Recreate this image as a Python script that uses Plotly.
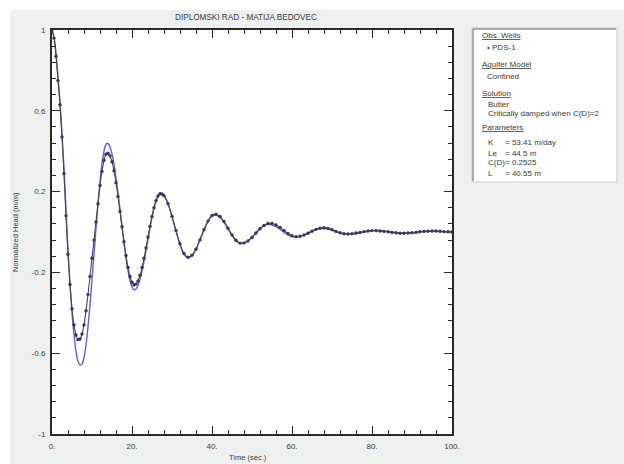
import plotly.graph_objects as go

# ---------------- data ----------------
time_s = [0, 0.5, 1, 1.5, 2, 2.5, 3, 3.5, 4, 4.5, 5, 5.5, 6, 6.5, 7, 7.5, 8, 8.5, 9, 9.5,
          10, 10.5, 11, 11.5, 12, 12.5, 13, 13.5, 14, 14.5, 15, 15.5, 16, 16.5, 17, 17.5,
          18, 18.5, 19, 19.5, 20, 20.5, 21, 21.5, 22, 22.5, 23, 23.5, 24, 24.5, 25, 25.5,
          26, 26.5, 27, 27.5, 28,
          29, 30, 31, 32, 33, 34, 35, 36, 37, 38, 39, 40, 41, 42, 43, 44, 45, 46, 47, 48,
          49, 50, 51, 52, 53, 54, 55, 56, 57, 58, 59, 60, 61, 62, 63, 64, 65, 66, 67, 68,
          69, 70, 71, 72, 73, 74, 75, 76, 77, 78, 79, 80, 81, 82, 83, 84, 85, 86, 87, 88,
          89, 90, 91, 92, 93, 94, 95, 96, 97, 98, 99, 100]

observed_head = [1.0, 0.96, 0.87, 0.75, 0.63, 0.47, 0.29, 0.08, -0.11, -0.26,
                 -0.38, -0.46, -0.51, -0.533, -0.530, -0.505, -0.46, -0.39, -0.31, -0.22,
                 -0.13, -0.04, 0.05, 0.14, 0.23, 0.30, 0.355, 0.385, 0.39, 0.377,
                 0.348, 0.303, 0.244, 0.176, 0.102, 0.026, -0.048, -0.116, -0.175, -0.220,
                 -0.249, -0.262, -0.258, -0.242, -0.214, -0.176, -0.130, -0.079, -0.025, 0.028,
                 0.077, 0.120, 0.155, 0.178, 0.189, 0.188, 0.180,
                 0.140, 0.078, 0.008, -0.058, -0.106, -0.125, -0.115, -0.085, -0.039, 0.011,
                 0.054, 0.082, 0.088, 0.077, 0.052, 0.019, -0.014, -0.041, -0.055, -0.054,
                 -0.044, -0.027, -0.005, 0.016, 0.032, 0.042, 0.042, 0.035, 0.023, 0.008,
                 -0.007, -0.018, -0.023, -0.021, -0.015, -0.006, 0.004, 0.013, 0.019, 0.021,
                 0.018, 0.012, 0.003, -0.004, -0.009, -0.010, -0.008, -0.005, -0.002, 0.002,
                 0.005, 0.007, 0.007, 0.005, 0.003, 0.001, -0.002, -0.004, -0.006, -0.006,
                 -0.005, -0.004, -0.002, 0.001, 0.003, 0.004, 0.005, 0.005, 0.004, 0.002,
                 0.001, 0.0]

model_head = [1.0, 0.965, 0.885, 0.77, 0.645, 0.49, 0.31, 0.11, -0.09, -0.26,
              -0.40, -0.51, -0.59, -0.64, -0.658, -0.654, -0.621, -0.558, -0.470, -0.362,
              -0.239, -0.110, 0.020, 0.142, 0.250, 0.338, 0.401, 0.434, 0.438, 0.421,
              0.386, 0.334, 0.268, 0.192, 0.111, 0.027, -0.054, -0.128, -0.191, -0.240,
              -0.272, -0.286, -0.282, -0.264, -0.235, -0.195, -0.146, -0.092, -0.036, 0.020,
              0.073, 0.118, 0.155, 0.179, 0.191, 0.190, 0.181,
              0.140, 0.076, 0.003, -0.064, -0.110, -0.127, -0.116, -0.084, -0.038, 0.011,
              0.053, 0.079, 0.084, 0.072, 0.048, 0.016, -0.017, -0.042, -0.056, -0.055,
              -0.044, -0.026, -0.004, 0.017, 0.032, 0.038, 0.035, 0.026, 0.013, -0.002,
              -0.014, -0.023, -0.025, -0.022, -0.015, -0.005, 0.004, 0.012, 0.016, 0.017,
              0.014, 0.008, 0.002, -0.004, -0.009, -0.011, -0.010, -0.008, -0.004, 0.000,
              0.004, 0.007, 0.0075, 0.007, 0.005, 0.002, -0.001, -0.003, -0.005, -0.005,
              -0.004, -0.003, -0.001, 0.001, 0.002, 0.003, 0.003, 0.003, 0.002, 0.001,
              0.000, -0.001]

x_tick_vals = [0, 20, 40, 60, 80, 100]
x_tick_text = ["0.", "20.", "40.", "60.", "80.", "100."]
y_tick_vals = [1, 0.6, 0.2, -0.2, -0.6, -1]
y_tick_text = ["1", "0.6", "0.2", "-0.2", "-0.6", "-1"]

title_text = "DIPLOMSKI RAD - MATIJA BEDOVEC"
x_title = "Time (sec.)"
y_title = "Normalized Head (m/m)"

panel_lines = [
    ("<u>Obs. Wells</u>", 480, 35),
    ("• PDS-1", 485, 47),
    ("<u>Aquifer Model</u>", 480, 65),
    ("Confined", 485, 76),
    ("<u>Solution</u>", 480, 93),
    ("Butler", 486, 104),
    ("Critically damped when C(D)=2", 486, 114),
    ("<u>Parameters</u>", 480, 127),
]
param_names = ["K", "Le", "C(D)", "L"]
param_values = ["= 53.41 m/day", "= 44.5 m", "= 0.2525", "= 40.55 m"]
param_rows_y = [142, 153, 163, 173]

# ---------------- layout helpers (pixel -> paper) ----------------
W, H = 624, 464
L, R, T, B = 52, 172, 30, 30
PW, PH = W - L - R, H - T - B


def px(x):
    return (x - L) / PW


def py(y):
    return (H - B - y) / PH


FONT = "Liberation Sans, Arial, sans-serif"
TXT = "#3a3a3a"
AX = "#2a2a2a"

fig = go.Figure()

fig.add_trace(go.Scatter(
    x=time_s, y=model_head, mode="lines", line=dict(color="#5d60d4", width=1.4, shape="spline"),
    showlegend=False, hoverinfo="skip"))
fig.add_trace(go.Scatter(
    x=time_s, y=observed_head, mode="lines+markers",
    line=dict(color="#44446a", width=1.1, shape="spline"),
    marker=dict(color="#38384e", size=3.4, line=dict(width=0)),
    showlegend=False, hoverinfo="skip"))

axis_common = dict(
    showgrid=False, zeroline=False, showline=True, linecolor=AX, linewidth=2,
    mirror="ticks", ticks="inside", tickcolor=AX, ticklen=8, tickwidth=1,
    tickfont=dict(family=FONT, size=8, color=TXT),
)

fig.update_xaxes(range=[0, 100], tickvals=x_tick_vals, ticktext=x_tick_text,
                 minor=dict(dtick=4, ticks="inside", ticklen=4, tickcolor=AX, showgrid=False),
                 ticklabelstandoff=3, **axis_common)
fig.update_yaxes(range=[-1, 1], tickvals=y_tick_vals, ticktext=y_tick_text,
                 minor=dict(tick0=-1, dtick=0.08, ticks="inside", ticklen=4, tickcolor=AX,
                            showgrid=False),
                 ticklabelstandoff=3, **axis_common)

shapes = [
    # gray window background
    dict(type="rect", xref="paper", yref="paper", x0=px(10), x1=px(W + 5), y0=py(H + 5), y1=py(10),
         fillcolor="#eef0f0", line=dict(width=0), layer="below"),
    # plot area white
    dict(type="rect", xref="paper", yref="paper", x0=0, x1=1, y0=0, y1=1,
         fillcolor="white", line=dict(width=0), layer="below"),
    # info panel
    dict(type="rect", xref="paper", yref="paper", x0=px(472), x1=px(617), y0=py(182), y1=py(28),
         fillcolor="white", line=dict(color="#cfcfcf", width=1), layer="below"),
    dict(type="line", xref="paper", yref="paper", x0=px(473), x1=px(473), y0=py(181), y1=py(29),
         line=dict(color="#666666", width=1)),
    dict(type="line", xref="paper", yref="paper", x0=px(473), x1=px(616), y0=py(29), y1=py(29),
         line=dict(color="#666666", width=1)),
]

annotations = [
    dict(text=title_text, x=px(246), y=py(18), xref="paper", yref="paper", showarrow=False,
         font=dict(family=FONT, size=8.2, color=TXT), xanchor="center", yanchor="middle"),
    dict(text=x_title, x=px(248), y=py(457), xref="paper", yref="paper", showarrow=False,
         font=dict(family=FONT, size=7.5, color=TXT), xanchor="center", yanchor="middle"),
    dict(text=y_title, x=px(15), y=py(232), xref="paper", yref="paper", showarrow=False,
         textangle=-90, font=dict(family=FONT, size=7.5, color=TXT), xanchor="center", yanchor="middle"),
]
for txt, x, y in panel_lines:
    annotations.append(dict(text=txt, x=px(x), y=py(y), xref="paper", yref="paper", showarrow=False,
                            font=dict(family=FONT, size=8, color=TXT), xanchor="left", yanchor="middle"))
for name, val, y in zip(param_names, param_values, param_rows_y):
    annotations.append(dict(text=name, x=px(486), y=py(y), xref="paper", yref="paper", showarrow=False,
                            font=dict(family=FONT, size=8, color=TXT), xanchor="left", yanchor="middle"))
    annotations.append(dict(text=val, x=px(503), y=py(y), xref="paper", yref="paper", showarrow=False,
                            font=dict(family=FONT, size=8, color=TXT), xanchor="left", yanchor="middle"))

fig.update_layout(
    width=W, height=H,
    margin=dict(l=L, r=R, t=T, b=B, autoexpand=False),
    paper_bgcolor="white", plot_bgcolor="rgba(0,0,0,0)",
    shapes=shapes, annotations=annotations,
    font=dict(family=FONT, size=8, color=TXT),
)

fig.write_html("out.html", config={"displayModeBar": False},
               post_script="document.body.style.margin='0';document.body.style.overflow='hidden';")
